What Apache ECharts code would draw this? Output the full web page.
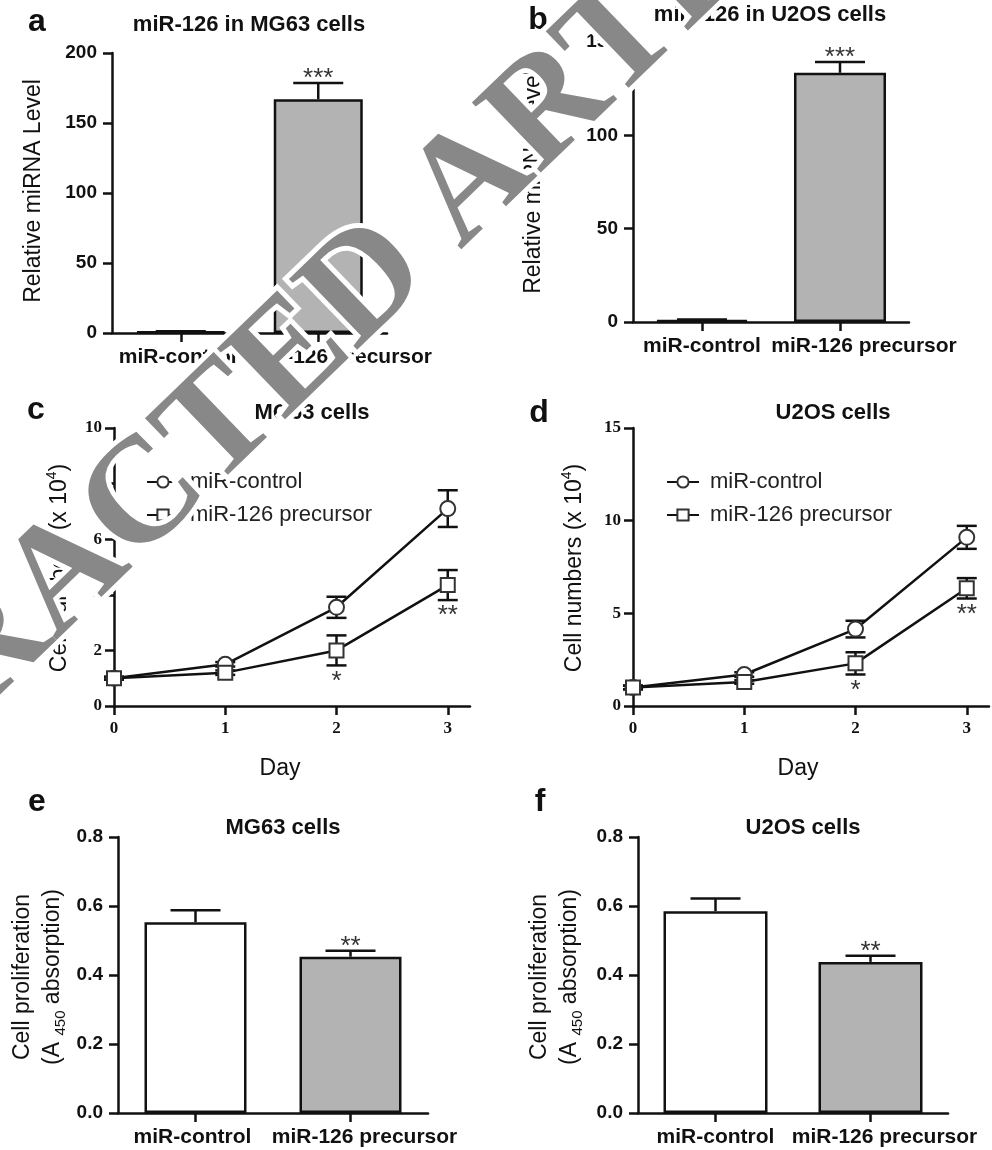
<!DOCTYPE html>
<html>
<head>
<meta charset="utf-8">
<script src="https://cdn.jsdelivr.net/npm/echarts@6/dist/echarts.min.js"></script>
<style>
  html, body { margin: 0; padding: 0; background: #fff; }
  #fig { width: 992px; height: 1150px; }
</style>
</head>
<body>
<div id="fig"></div>
<script>
// ---- data ----
var groups = ['miR-control', 'miR-126 precursor'];
var days = [0, 1, 2, 3];
var dayTicks = [0, 1, 2, 3];

// a: miR-126 in MG63 cells
var mirMG63 = [1, 167];
var mirMG63Err = [0.3, 11.5];
var mirMG63Stars = ['', '***'];
// b: miR-126 in U2OS cells
var mirU2OS = [1, 133.5];
var mirU2OSErr = [0.3, 5.8];
var mirU2OSStars = ['', '***'];
// c: growth, MG63
var growMG63Ctrl = [1.0, 1.5, 3.55, 7.1];
var growMG63CtrlErr = [0.05, 0.08, 0.38, 0.66];
var growMG63Pre = [1.0, 1.2, 2.0, 4.35];
var growMG63PreErr = [0.05, 0.08, 0.54, 0.54];
var growMG63Stars = ['', '', '*', '**'];
// d: growth, U2OS
var growU2OSCtrl = [1.0, 1.7, 4.15, 9.1];
var growU2OSCtrlErr = [0.1, 0.12, 0.45, 0.62];
var growU2OSPre = [1.0, 1.3, 2.3, 6.35];
var growU2OSPreErr = [0.1, 0.1, 0.6, 0.55];
var growU2OSStars = ['', '', '*', '**'];
// e, f: proliferation (A450)
var prolMG63 = [0.553, 0.453];
var prolMG63Err = [0.035, 0.017];
var prolMG63Stars = ['', '**'];
var prolU2OS = [0.585, 0.438];
var prolU2OSErr = [0.037, 0.018];
var prolU2OSStars = ['', '**'];

// ---- style ----
var black = '#111';
var sans = 'Liberation Sans';
var serif = 'Liberation Serif';
var barFill = ['#fff', '#b3b3b3'];

var grid = [], xAxis = [], yAxis = [], series = [], graphic = [];

function axisLine() { return { show: true, lineStyle: { color: black, width: 2.5 } }; }
function axisTick() { return { show: true, length: 9, lineStyle: { color: black, width: 2.5 } }; }

function starText(x, y, s) {
  return { type: 'text', x: x, y: y, style: { text: s, fill: '#333', fontSize: 26, fontFamily: sans, align: 'center', verticalAlign: 'middle' } };
}

function barPanel(g, yMax, yStep, vals, errs, stars, fmt, barW, shift) {
  var i = grid.length;
  grid.push({ left: g[0], top: g[1], width: g[2], height: g[3] });
  var rich = {};
  [0, 1].forEach(function (k) {
    var s = shift[k];
    rich['l' + k] = { fontSize: 21, fontWeight: 'bold', fontFamily: sans, color: black,
      padding: s >= 0 ? [0, 0, 0, 2 * s] : [0, -2 * s, 0, 0] };
  });
  xAxis.push({
    type: 'category', gridIndex: i, data: groups,
    axisLine: axisLine(), axisTick: Object.assign(axisTick(), { alignWithLabel: true }),
    axisLabel: { interval: 0, margin: 14, formatter: function (v, idx) { return '{l' + idx + '|' + v + '}'; }, rich: rich }
  });
  yAxis.push({
    type: 'value', gridIndex: i, min: 0, max: yMax, interval: yStep,
    splitLine: { show: false }, axisLine: axisLine(), axisTick: axisTick(),
    axisLabel: { color: black, fontSize: 19, fontWeight: 'bold', fontFamily: sans, margin: 15, formatter: fmt }
  });
  series.push({
    type: 'bar', xAxisIndex: i, yAxisIndex: i, barWidth: barW,
    data: vals.map(function (v, k) { return { value: v, itemStyle: { color: barFill[k] } }; }),
    itemStyle: { borderColor: black, borderWidth: 2.5 }
  });
  series.push({
    type: 'custom', xAxisIndex: i, yAxisIndex: i, z: 3,
    data: vals.map(function (v, k) { return [k, v]; }),
    renderItem: function (params, api) {
      var k = params.dataIndex;
      var v = api.value(1), e = errs[k];
      var p0 = api.coord([k, v]), p1 = api.coord([k, v + e]);
      var st = { stroke: black, lineWidth: 2.5 };
      var ch = [
        { type: 'line', shape: { x1: p0[0], y1: p0[1], x2: p0[0], y2: p1[1] }, style: st },
        { type: 'line', shape: { x1: p0[0] - 25, y1: p1[1], x2: p0[0] + 25, y2: p1[1] }, style: st }
      ];
      if (stars[k]) ch.push(starText(p0[0], p1[1] - 4, stars[k]));
      return { type: 'group', children: ch };
    }
  });
}

function linePanel(g, yMax, yStep, ctrl, ctrlErr, pre, preErr, stars) {
  var i = grid.length;
  grid.push({ left: g[0], top: g[1], width: g[2], height: g[3] });
  var lab = { color: black, fontSize: 17, fontWeight: 'bold', fontFamily: serif };
  xAxis.push({
    type: 'value', gridIndex: i, min: 0, max: 3.2, splitLine: { show: false },
    axisLine: axisLine(), axisTick: Object.assign(axisTick(), { customValues: dayTicks }),
    axisLabel: Object.assign({ margin: 14, customValues: dayTicks }, lab)
  });
  yAxis.push({
    type: 'value', gridIndex: i, min: 0, max: yMax, interval: yStep,
    splitLine: { show: false }, axisLine: axisLine(), axisTick: axisTick(),
    axisLabel: Object.assign({ margin: 12 }, lab)
  });
  function err(vals, errs, st) {
    return {
      type: 'custom', xAxisIndex: i, yAxisIndex: i, z: 1,
      data: days.map(function (d, k) { return [d, vals[k]]; }),
      renderItem: function (params, api) {
        var k = params.dataIndex;
        var x = api.value(0), v = api.value(1), e = errs[k];
        var hi = api.coord([x, v + e]), lo = api.coord([x, v - e]);
        var s = { stroke: black, lineWidth: 2.5 };
        var ch = [
          { type: 'line', shape: { x1: hi[0], y1: hi[1], x2: lo[0], y2: lo[1] }, style: s },
          { type: 'line', shape: { x1: hi[0] - 10, y1: hi[1], x2: hi[0] + 10, y2: hi[1] }, style: s },
          { type: 'line', shape: { x1: lo[0] - 10, y1: lo[1], x2: lo[0] + 10, y2: lo[1] }, style: s }
        ];
        if (st && st[k]) ch.push(starText(lo[0], lo[1] + 16, st[k]));
        return { type: 'group', children: ch };
      }
    };
  }
  series.push(err(ctrl, ctrlErr, null));
  series.push(err(pre, preErr, stars));
  [[groups[0], ctrl, 'circle', 15], [groups[1], pre, 'rect', 14]].forEach(function (s) {
    series.push({
      type: 'line', name: s[0], xAxisIndex: i, yAxisIndex: i, z: 5,
      data: days.map(function (d, k) { return [d, s[1][k]]; }),
      symbol: s[2], symbolSize: s[3], showAllSymbol: true,
      lineStyle: { color: black, width: 2.5 },
      itemStyle: { color: '#fff', borderColor: '#333', borderWidth: 2 }
    });
  });
}

function txt(x, y, s, size, weight, rot, extra) {
  var style = Object.assign({ text: s, fill: black, fontSize: size, fontWeight: weight, fontFamily: sans, align: 'center', verticalAlign: 'middle' }, extra || {});
  return { type: 'text', x: x, y: y, rotation: rot || 0, z: 10, style: style };
}

// ---- panels ----
barPanel([112, 53, 275, 280], 200, 50, mirMG63, mirMG63Err, mirMG63Stars, null, 89, [-3, 21]);
barPanel([633, 42, 276, 280], 150, 50, mirU2OS, mirU2OSErr, mirU2OSStars, null, 92, [0, 24]);
linePanel([114, 428, 356, 278], 10, 2, growMG63Ctrl, growMG63CtrlErr, growMG63Pre, growMG63PreErr, growMG63Stars);
linePanel([633, 428, 356, 278], 15, 5, growU2OSCtrl, growU2OSCtrlErr, growU2OSPre, growU2OSPreErr, growU2OSStars);
var oneDec = function (v) { return v.toFixed(1); };
barPanel([118, 837, 310, 276], 0.8, 0.2, prolMG63, prolMG63Err, prolMG63Stars, oneDec, 102, [-3, 14]);
barPanel([638, 837, 310, 276], 0.8, 0.2, prolU2OS, prolU2OSErr, prolU2OSStars, oneDec, 104, [0, 14]);

// ---- titles, letters, axis names ----
var R90 = Math.PI / 2;
graphic.push(
  txt(37, 22, 'a', 32, 'bold'), txt(538, 20, 'b', 32, 'bold'),
  txt(36, 410, 'c', 32, 'bold'), txt(539, 413, 'd', 32, 'bold'),
  txt(37, 802, 'e', 32, 'bold'), txt(540, 802, 'f', 32, 'bold'),
  txt(249, 25, 'miR-126 in MG63 cells', 22, 'bold'),
  txt(770, 15, 'miR-126 in U2OS cells', 22, 'bold'),
  txt(312, 413, 'MG63 cells', 22, 'bold'),
  txt(833, 413, 'U2OS cells', 22, 'bold'),
  txt(283, 828, 'MG63 cells', 22, 'bold'),
  txt(803, 828, 'U2OS cells', 22, 'bold'),
  txt(34, 191, 'Relative miRNA Level', 23, 'normal', R90),
  txt(534, 182, 'Relative miRNA Level', 23, 'normal', R90),
  txt(280, 769, 'Day', 23, 'normal'),
  txt(798, 769, 'Day', 23, 'normal')
);
var supRich = {
  m: { fontSize: 23, fontFamily: sans, fill: black, lineHeight: 30 },
  sup: { fontSize: 14, fontFamily: sans, fill: black, verticalAlign: 'top', lineHeight: 30 }
};
graphic.push(
  txt(60, 568, '{m|Cell numbers (x 10}{sup|4}{m|)}', 23, 'normal', R90, { rich: supRich }),
  txt(575, 568, '{m|Cell numbers (x 10}{sup|4}{m|)}', 23, 'normal', R90, { rich: supRich })
);
var subRich = {
  m: { fontSize: 23, fontFamily: sans, fill: black, lineHeight: 30 },
  sub: { fontSize: 15, fontFamily: sans, fill: black, verticalAlign: 'bottom', lineHeight: 30 }
};
var prolName = '{m|Cell proliferation}\n{m|(A }{sub|450}{m| absorption)}';
graphic.push(
  txt(38, 977, prolName, 23, 'normal', R90, { rich: subRich }),
  txt(555, 977, prolName, 23, 'normal', R90, { rich: subRich })
);

// ---- watermark ----
var wmRot = 44 * Math.PI / 180;
graphic.push(
  { type: 'text', x: 325, y: 327, rotation: wmRot, z: 100,
    style: { text: 'RETRACTED ARTICLE', fontSize: 150, fontWeight: 'bold', fontFamily: serif, fill: '#fff', stroke: '#fff', lineWidth: 10, align: 'center', verticalAlign: 'middle' } },
  { type: 'text', x: 325, y: 327, rotation: wmRot, z: 101,
    style: { text: 'RETRACTED ARTICLE', fontSize: 150, fontWeight: 'bold', fontFamily: serif, fill: '#888', align: 'center', verticalAlign: 'middle' } }
);

var chart = echarts.init(document.getElementById('fig'), null, { renderer: 'canvas' });
chart.setOption({
  animation: false,
  backgroundColor: '#fff',
  grid: grid,
  xAxis: xAxis,
  yAxis: yAxis,
  legend: [
    { left: 141, top: 466, orient: 'vertical', itemWidth: 32, itemHeight: 14, itemGap: 11, selectedMode: false,
      data: groups, textStyle: { fontSize: 22, fontFamily: sans, color: '#222', padding: [0, 0, 0, 6] } },
    { left: 661, top: 466, orient: 'vertical', itemWidth: 32, itemHeight: 14, itemGap: 11, selectedMode: false,
      data: groups, textStyle: { fontSize: 22, fontFamily: sans, color: '#222', padding: [0, 0, 0, 6] } }
  ],
  graphic: graphic,
  series: series
});
</script>
</body>
</html>
